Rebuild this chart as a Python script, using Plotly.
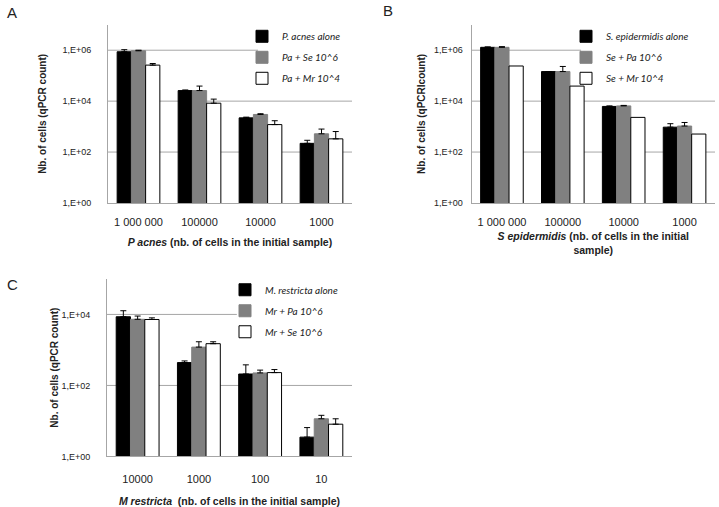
import plotly.graph_objects as go

# ---- data ----
cats_a = ["1 000 000", "100000", "10000", "1000"]
pa_alone = [8.7e5, 2.6e4, 2.2e3, 2.2e2]
pa_alone_err = [1.05e6, 2.75e4, 2.35e3, 2.9e2]
pa_se = [9.5e5, 2.6e4, 3.0e3, 5.2e2]
pa_se_err = [1.0e6, 3.9e4, 3.2e3, 8.0e2]
pa_mr = [2.6e5, 8.3e3, 1.2e3, 3.3e2]
pa_mr_err = [3.0e5, 1.2e4, 1.7e3, 6.4e2]

cats_b = ["1 000 000", "100000", "10000", "1000"]
se_alone = [1.3e6, 1.45e5, 6.2e3, 9.5e2]
se_alone_err = [1.35e6, 1.45e5, 6.5e3, 1.3e3]
se_pa = [1.3e6, 1.45e5, 6.5e3, 1.05e3]
se_pa_err = [1.38e6, 2.3e5, 6.8e3, 1.45e3]
se_mr = [2.4e5, 3.9e4, 2.3e3, 5.1e2]
se_mr_err = None  # no visible error bars

cats_c = ["10000", "1000", "100", "10"]
mr_alone = [8.6e3, 4.4e2, 2.1e2, 3.5]
mr_alone_err = [1.27e4, 4.9e2, 3.8e2, 6.5]
mr_pa = [7.3e3, 1.2e3, 2.25e2, 11.5]
mr_pa_err = [9.0e3, 1.7e3, 2.7e2, 14.4]
mr_se = [7.2e3, 1.5e3, 2.3e2, 8.1]
mr_se_err = [8.0e3, 1.7e3, 2.8e2, 11.5]

ytick_vals_ab = [1, 1e2, 1e4, 1e6]
ytick_text_ab = ["1,E+00", "1,E+02", "1,E+04", "1,E+06"]
ytick_vals_c = [1, 1e2, 1e4]
ytick_text_c = ["1,E+00", "1,E+02", "1,E+04"]

W, H = 719, 507
FONT = "Liberation Sans"
GRID = "#a6a6a6"


def px_x(a, b):
    return [a / W, b / W]


def px_y(top, bottom):
    return [1 - bottom / H, 1 - top / H]


fig = go.Figure()

styles = [
    dict(color="black", line=dict(color="black", width=1)),
    dict(color="#808080", line=dict(color="#808080", width=1)),
    dict(color="white", line=dict(color="black", width=1)),
]


def add_panel(cats, series, names, xa, ya, legend):
    for i, ((vals, tops), name) in enumerate(zip(series, names)):
        if tops is None:
            err = dict(visible=False)
        else:
            err = dict(type="data", symmetric=False,
                       array=[max(t - v, 0) for t, v in zip(tops, vals)],
                       arrayminus=[0] * len(vals),
                       color="black", thickness=1, width=3)
        fig.add_trace(go.Bar(
            x=cats, y=vals, name=name,
            marker=dict(color=styles[i]["color"], line=styles[i]["line"]),
            error_y=err,
            xaxis=xa, yaxis=ya, legend=legend, legendgroup=legend + str(i),
        ))


add_panel(cats_a, [(pa_alone, pa_alone_err), (pa_se, pa_se_err), (pa_mr, pa_mr_err)],
          ["P. acnes alone", "Pa + Se 10^6", "Pa + Mr 10^4"], "x", "y", "legend")
add_panel(cats_b, [(se_alone, se_alone_err), (se_pa, se_pa_err), (se_mr, se_mr_err)],
          ["S. epidermidis alone", "Se + Pa 10^6", "Se + Mr 10^4"], "x2", "y2", "legend2")
add_panel(cats_c, [(mr_alone, mr_alone_err), (mr_pa, mr_pa_err), (mr_se, mr_se_err)],
          ["M. restricta alone", "Mr + Pa 10^6", "Mr + Se 10^6"], "x3", "y3", "legend3")

xcommon = dict(showline=True, linecolor=GRID, linewidth=1, ticks="", showgrid=False,
               tickfont=dict(family=FONT, size=11, color="#222"), ticklabelstandoff=9,
               zeroline=False)
ycommon = dict(type="log", showline=True, linecolor=GRID, linewidth=1, ticks="",
               showgrid=False, zeroline=False,
               tickfont=dict(family=FONT, size=9, color="#222"), ticklabelstandoff=14)

xt_font = dict(family=FONT, size=10.5, color="#222", weight="bold")
yt_font = dict(family=FONT, size=10, color="#222", weight="bold")

fig.update_layout(
    width=W, height=H, margin=dict(l=0, r=0, t=0, b=0),
    paper_bgcolor="white", plot_bgcolor="white",
    barmode="group", bargap=0.3, bargroupgap=0,
    xaxis=dict(domain=px_x(108, 352), anchor="y",
               title=dict(text="<i>P acnes</i> (nb. of cells in the initial sample)",
                          font=xt_font, standoff=11), **xcommon),
    yaxis=dict(domain=px_y(25, 205), anchor="x", range=[0, 7],
               tickvals=ytick_vals_ab, ticktext=ytick_text_ab,
               title=dict(text="Nb. of cells (qPCR count)", font=yt_font, standoff=13),
               **ycommon),
    xaxis2=dict(domain=px_x(471.5, 715), anchor="y2",
                title=dict(text="<i>S epidermidis</i> (nb. of cells in the initial<br>sample)",
                           font=xt_font, standoff=5), **xcommon),
    yaxis2=dict(domain=px_y(25, 205), anchor="x2", range=[0, 7],
                tickvals=ytick_vals_ab, ticktext=ytick_text_ab,
                title=dict(text="Nb. of cells (qPCRIcount)", font=yt_font, standoff=6),
                **{**ycommon, "ticklabelstandoff": 6}),
    xaxis3=dict(domain=px_x(107, 352), anchor="y3",
                title=dict(text="<i>M restricta</i>  (nb. of cells in the initial sample)",
                           font=xt_font, standoff=13),
                **{**xcommon, "ticklabelstandoff": 12}),
    yaxis3=dict(domain=px_y(281.7, 461), anchor="x3", range=[0, 5],
                tickvals=ytick_vals_c, ticktext=ytick_text_c,
                title=dict(text="Nb. of cells (qPCR count)", font=yt_font, standoff=0),
                **ycommon),
)

# horizontal gridlines (Excel style: the top one is hidden behind the legend box)
for xref, yref, lines, x_end_top in [("x domain", "y", [1e2, 1e4, 1e6], 0.615),
                                     ("x2 domain", "y2", [1e2, 1e4, 1e6], 0.45),
                                     ("x3 domain", "y3", [1e2, 1e4], 0.53)]:
    for lv in lines:
        x1 = x_end_top if lv == lines[-1] else 1.0
        fig.add_shape(type="line", xref=xref, yref=yref, x0=0, x1=x1, y0=lv, y1=lv,
                      line=dict(color=GRID, width=1), layer="below")

leg_common = dict(bgcolor="rgba(0,0,0,0)", borderwidth=0, xanchor="left", yanchor="top",
                  font=dict(family="Lato", size=10, color="#222", style="italic"),
                  tracegroupgap=2, itemwidth=30)
fig.update_layout(
    legend=dict(x=242 / W, y=1 - 22 / H, **leg_common),
    legend2=dict(x=566 / W, y=1 - 22 / H, **leg_common),
    legend3=dict(x=225 / W, y=1 - 278 / H, **leg_common),
)

for txt, x, y in [("A", 12, 13), ("B", 388, 11), ("C", 12, 287)]:
    fig.add_annotation(text=txt, x=x / W, y=1 - y / H, xref="paper", yref="paper",
                       showarrow=False, xanchor="center", yanchor="middle",
                       font=dict(family=FONT, size=15, color="#222"))

fig.write_html("out.html", post_script="document.body.style.margin='0';",
               config={"displayModeBar": False})
